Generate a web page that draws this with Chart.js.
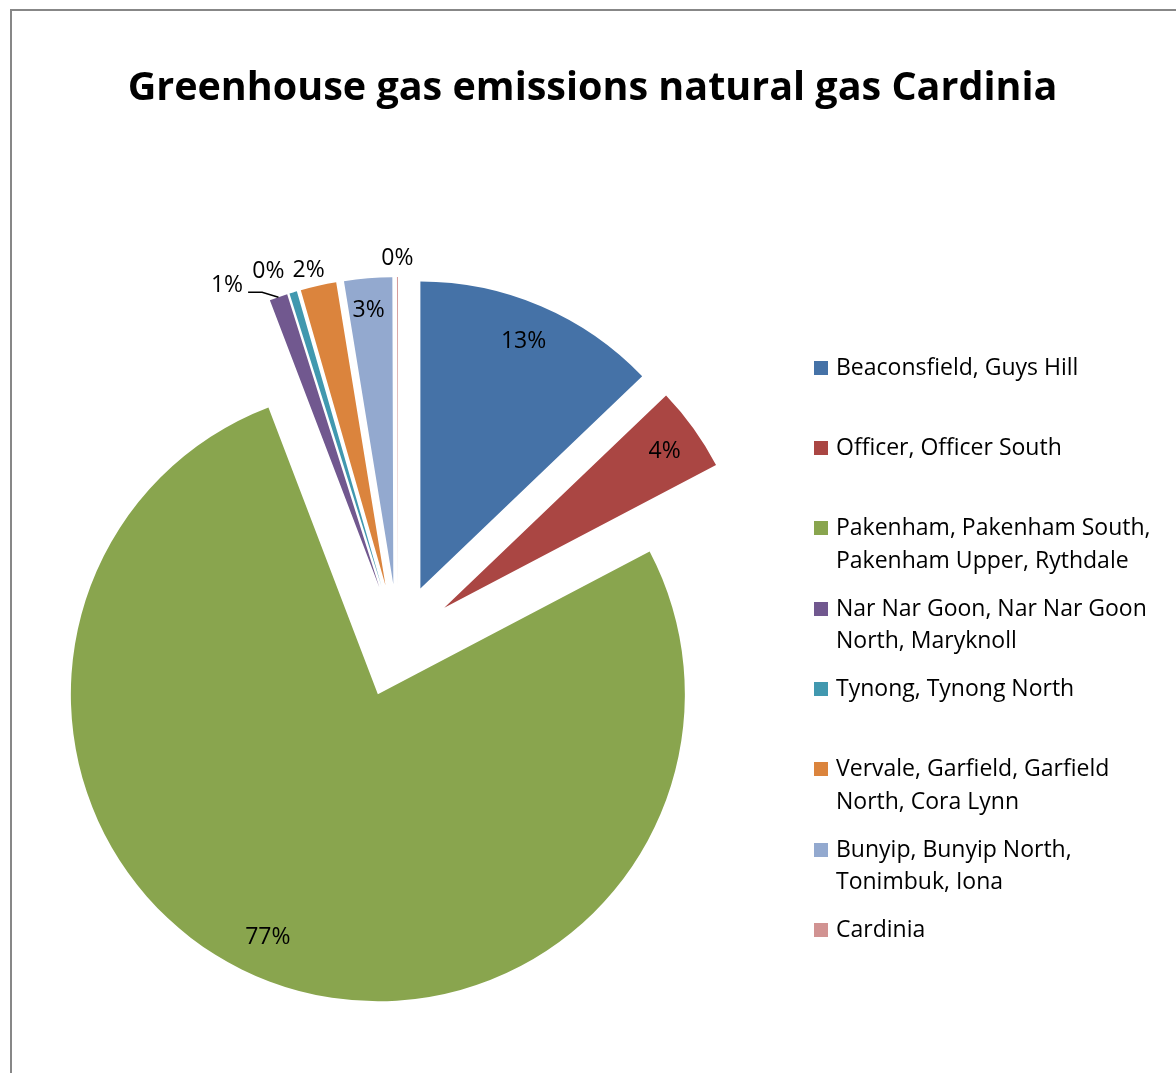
<!DOCTYPE html>
<html>
<head>
<meta charset="utf-8">
<title>Greenhouse gas emissions natural gas Cardinia</title>
<script src="https://cdn.jsdelivr.net/npm/chart.js@4"></script>
<style>
  html, body { margin: 0; padding: 0; background: #fff; width: 1176px; height: 1073px; overflow: hidden; font-family: "Open Sans", Lato, sans-serif; }
  #frame { position: absolute; left: 10px; top: 9px; width: 1200px; height: 1100px; border-left: 2px solid #878787; border-top: 2px solid #878787; }
  #chart { position: absolute; left: 0; top: 0; }
  #title { position: absolute; left: 0; top: 66px; width: 1185px; text-align: center; font-weight: bold; font-size: 39.5px; line-height: 39.5px; color: #000; white-space: nowrap; }
  #legend { position: absolute; left: 0; top: 0; }
  .item { position: absolute; left: 814px; font-size: 23px; line-height: 32.5px; color: #000; white-space: nowrap; }
  .item .sw { position: absolute; left: 0; top: 11px; width: 14px; height: 14px; }
  .item .tx { position: absolute; left: 22px; top: 0; }
</style>
</head>
<body>
<div id="frame"></div>
<canvas id="chart" width="1176" height="1073"></canvas>
<div id="title">Greenhouse gas emissions natural gas Cardinia</div>
<div id="legend"></div>
<script>
// Localities (legend lines) and their share of natural-gas emissions (%)
const categories = [
  ['Beaconsfield, Guys Hill'],
  ['Officer, Officer South'],
  ['Pakenham, Pakenham South,', 'Pakenham Upper, Rythdale'],
  ['Nar Nar Goon, Nar Nar Goon', 'North, Maryknoll'],
  ['Tynong, Tynong North'],
  ['Vervale, Garfield, Garfield', 'North, Cora Lynn'],
  ['Bunyip, Bunyip North,', 'Tonimbuk, Iona'],
  ['Cardinia']
];
const emissionShare = [12.85, 4.45, 76.9, 0.95, 0.4, 1.88, 2.52, 0.05];
const sliceColors = ['#4572A7', '#AA4643', '#89A54E', '#71588F', '#4198AF', '#DB843D', '#93A9CF', '#D19392'];

// Percentage label placement: distance as a fraction of the radius, and a small angular nudge (degrees)
const labelDist = [0.877, 0.884, 0.864, 1.105, 1.097, 1.063, 0.90, 1.066];
const labelTurn = [-0.6, 0, 3.8, -7.5, -2.9, -1.0, -0.4, 0];
const labelLeader = [false, false, false, true, false, false, false, false];

const PIE_RADIUS = 307;
const EXPLODE = 57;          // how far every slice is pulled out from the centre

// Pull every slice out along its own bisector by the same distance
const explodeSlices = {
  id: 'explodeSlices',
  beforeDatasetsDraw(chart) {
    const meta = chart.getDatasetMeta(0);
    const area = chart.chartArea;
    const cx = (area.left + area.right) / 2 + meta.controller.offsetX;
    const cy = (area.top + area.bottom) / 2 + meta.controller.offsetY;
    meta.data.forEach(arc => {
      const mid = (arc.startAngle + arc.endAngle) / 2;
      arc.x = cx + Math.cos(mid) * EXPLODE;
      arc.y = cy + Math.sin(mid) * EXPLODE;
    });
  }
};

// Percentage labels for every slice, with a leader line where requested
const sliceLabels = {
  id: 'sliceLabels',
  afterDatasetsDraw(chart) {
    const ctx = chart.ctx;
    const meta = chart.getDatasetMeta(0);
    const values = chart.data.datasets[0].data;
    const total = values.reduce((a, b) => a + b, 0);
    const fontSize = 23;
    ctx.save();
    ctx.font = fontSize + 'px "Open Sans", Lato, sans-serif';
    ctx.fillStyle = '#000';
    ctx.strokeStyle = '#000';
    ctx.textAlign = 'center';
    ctx.textBaseline = 'alphabetic';
    meta.data.forEach((arc, i) => {
      const r = arc.outerRadius;
      const mid = (arc.startAngle + arc.endAngle) / 2;
      const a = mid + labelTurn[i] * Math.PI / 180;
      const lx = arc.x + Math.cos(a) * r * labelDist[i];
      const ly = arc.y + Math.sin(a) * r * labelDist[i];
      const text = Math.round(values[i] / total * 100) + '%';
      const baseY = ly + fontSize * 0.36;
      ctx.fillText(text, lx, baseY);
      if (labelLeader[i]) {
        const w = ctx.measureText(text).width;
        const x0 = lx + w / 2 + 5;
        const y0 = baseY;
        const ex = arc.x + Math.cos(mid) * r;
        const ey = arc.y + Math.sin(mid) * r;
        ctx.lineWidth = 1.5;
        ctx.beginPath();
        ctx.moveTo(x0, y0);
        ctx.lineTo(x0 + 14, y0);
        ctx.lineTo(ex, ey);
        ctx.stroke();
      }
    });
    ctx.restore();
  }
};

new Chart(document.getElementById('chart'), {
  type: 'pie',
  data: {
    labels: categories.map(c => c.join(' ')),
    datasets: [{
      data: emissionShare,
      backgroundColor: sliceColors,
      borderWidth: 0,
      hoverOffset: 0
    }]
  },
  options: {
    responsive: false,
    animation: false,
    events: [],
    radius: PIE_RADIUS,
    layout: { padding: { left: 10, right: 390, top: 219, bottom: 10 } },
    plugins: {
      legend: { display: false },
      title: { display: false },
      tooltip: { enabled: false }
    }
  },
  plugins: [explodeSlices, sliceLabels]
});

// Legend on the right, one slot per locality
const legend = document.getElementById('legend');
categories.forEach((lines, i) => {
  const item = document.createElement('div');
  item.className = 'item';
  item.style.top = (349.8 + i * 80.3) + 'px';
  const sw = document.createElement('div');
  sw.className = 'sw';
  sw.style.background = sliceColors[i];
  const tx = document.createElement('div');
  tx.className = 'tx';
  tx.innerHTML = lines.map(l => l.replace(/&/g, '&amp;')).join('<br>');
  item.appendChild(sw);
  item.appendChild(tx);
  legend.appendChild(item);
});
</script>
</body>
</html>
